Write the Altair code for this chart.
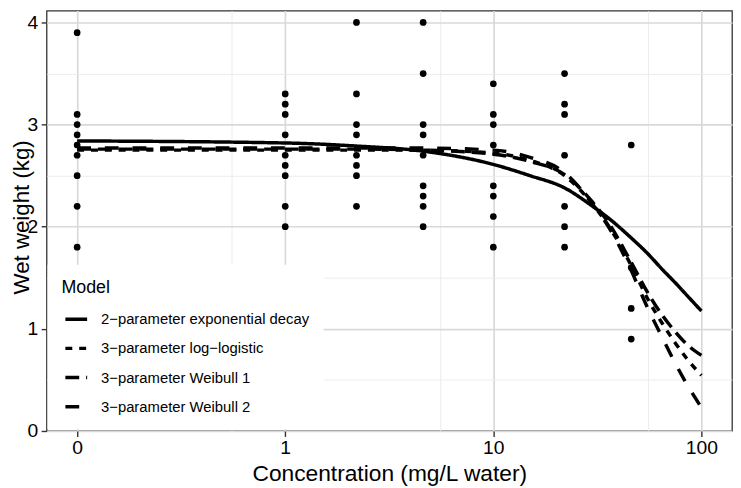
import altair as alt
import pandas as pd

MINUS = "\u2212"
models = [
    f"2{MINUS}parameter exponential decay",
    f"3{MINUS}parameter log{MINUS}logistic",
    f"3{MINUS}parameter Weibull 1",
    f"3{MINUS}parameter Weibull 2",
]
dash_styles = [[1, 0], [7, 7], [14, 7], [14, 14]]

# fitted curves
curve_conc = [0, 1, 2.2, 4.6, 10, 15, 22, 30, 36, 46, 55, 65, 75, 85, 100]
fit_exp_decay = [2.84, 2.82, 2.79, 2.74, 2.61, 2.50, 2.38, 2.20, 2.08, 1.89, 1.74, 1.58, 1.45, 1.33, 1.175]
fit_loglogistic = [2.75, 2.75, 2.75, 2.75, 2.72, 2.65, 2.50, 2.22, 2.00, 1.62, 1.30, 1.05, 0.86, 0.71, 0.545]
fit_weibull1 = [2.76, 2.76, 2.76, 2.75, 2.71, 2.64, 2.51, 2.24, 2.03, 1.65, 1.36, 1.13, 0.97, 0.85, 0.74]
fit_weibull2 = [2.77, 2.77, 2.77, 2.77, 2.75, 2.68, 2.53, 2.22, 1.99, 1.57, 1.21, 0.91, 0.66, 0.46, 0.23]

# observations
group_conc = [0, 1, 2.2, 4.6, 10, 22, 46]
w_0 = [3.9, 3.1, 3.0, 2.9, 2.8, 2.7, 2.5, 2.2, 1.8]
w_1 = [3.3, 3.2, 3.1, 2.9, 2.7, 2.6, 2.5, 2.2, 2.0]
w_2 = [4.0, 3.3, 3.0, 2.9, 2.7, 2.6, 2.5, 2.2]
w_4 = [4.0, 3.5, 3.0, 2.9, 2.7, 2.4, 2.3, 2.2, 2.0]
w_10 = [3.4, 3.1, 3.0, 2.8, 2.4, 2.3, 2.1, 1.8]
w_22 = [3.5, 3.2, 3.1, 2.7, 2.2, 2.0, 1.8]
w_46 = [2.8, 1.6, 1.2, 0.9]

x_major = [0, 1, 10, 100]
x_minor = [0.553, 5.53, 55.3]
y_major = [0, 1, 2, 3, 4]
y_minor = [0.5, 1.5, 2.5, 3.5]
ZERO_POS = 0.1  # where concentration 0 sits on the log axis

def pos(c):
    return ZERO_POS if c == 0 else c

rows = []
for m, vals in zip(models, [fit_exp_decay, fit_loglogistic, fit_weibull1, fit_weibull2]):
    for c, v in zip(curve_conc, vals):
        rows.append({"model": m, "x": pos(c), "y": v})
curves = pd.DataFrame(rows)

prow = []
for c, ws in zip(group_conc, [w_0, w_1, w_2, w_4, w_10, w_22, w_46]):
    for w in ws:
        prow.append({"x": pos(c), "y": w})
points = pd.DataFrame(prow)

FONT = "Liberation Sans"
MAJOR_GRID = "#d9d9d9"
MINOR_GRID = "#e9e9e9"
is_major_x = "abs(log(datum.value)/LN10 - round(log(datum.value)/LN10)) < 0.001"
is_major_y = "abs(datum.value - round(datum.value)) < 0.001"

x_vals = sorted([pos(v) for v in x_major] + x_minor)
y_vals = sorted(y_major + y_minor)

xscale = alt.Scale(type="log", domain=[0.0713, 140.3], nice=False)
yscale = alt.Scale(domain=[0, 4.116], nice=False, zero=False)

xaxis = alt.Axis(
    values=x_vals,
    labelExpr=f"{is_major_x} ? (datum.value < 0.5 ? '0' : format(datum.value, 'd')) : ''",
    gridColor={"condition": {"test": is_major_x, "value": MAJOR_GRID}, "value": MINOR_GRID},
    gridWidth={"condition": {"test": is_major_x, "value": 1.7}, "value": 0.9},
    tickSize={"condition": {"test": is_major_x, "value": 5.5}, "value": 0},
    labelPadding=2,
    labelFontSize=19.5,
    titleFontSize=23,
    titleY=50,
    titleBaseline="alphabetic",
)
yaxis = alt.Axis(
    values=y_vals,
    labelExpr=f"{is_major_y} ? format(datum.value, 'd') : ''",
    gridColor={"condition": {"test": is_major_y, "value": MAJOR_GRID}, "value": MINOR_GRID},
    gridWidth={"condition": {"test": is_major_y, "value": 1.7}, "value": 0.9},
    tickSize={"condition": {"test": is_major_y, "value": 5.5}, "value": 0},
    labelPadding=3.5,
    labelFontSize=19.5,
    titleFontSize=22.5,
    titleAngle=270,
    titleBaseline="alphabetic",
    titleAlign="center",
    titleX=-18.5,
    titleY=208.5,
)

lines = alt.Chart(curves).mark_line(color="black", strokeWidth=3.5, interpolate="monotone").encode(
    x=alt.X("x:Q", scale=xscale, axis=xaxis, title="Concentration (mg/L water)"),
    y=alt.Y("y:Q", scale=yscale, axis=yaxis, title="Wet weight (kg)"),
    strokeDash=alt.StrokeDash(
        "model:N",
        scale=alt.Scale(domain=models, range=dash_styles),
        legend=alt.Legend(
            title="Model",
            orient="none",
            legendX=1,
            legendY=257,
            fillColor="white",
            padding=14,
            titleFontSize=18,
            titleFontWeight="normal",
            titleColor="black",
            titlePadding=10,
            labelFontSize=15,
            labelColor="black",
            labelLimit=400,
            labelOffset=12,
            symbolType="stroke",
            symbolSize=484,
            symbolStrokeWidth=3.5,
            symbolStrokeColor="black",
            symbolOffset=2,
            rowPadding=8.5,
        ),
    ),
)

dots = alt.Chart(points).mark_circle(color="black", size=46, opacity=1).encode(
    x=alt.X("x:Q", scale=xscale),
    y=alt.Y("y:Q", scale=yscale),
)

chart = (
    alt.layer(lines, dots)
    .properties(
        width=693,
        height=425,
        autosize=alt.AutoSizeParams(type="none"),
        padding={"left": 39, "top": 0, "right": 1, "bottom": 55},
    )
    .configure(font=FONT)
    .configure_view(stroke="#333333", strokeWidth=1.3)
    .configure_axis(
        domain=False,
        tickColor="#333333",
        tickWidth=1.4,
        labelColor="black",
        titleColor="black",
        titleFontWeight="normal",
        labelFont=FONT,
        titleFont=FONT,
    )
    .configure_legend(labelFont=FONT, titleFont=FONT)
)

chart.save("out.html", embed_options={"renderer": "svg", "actions": False})
